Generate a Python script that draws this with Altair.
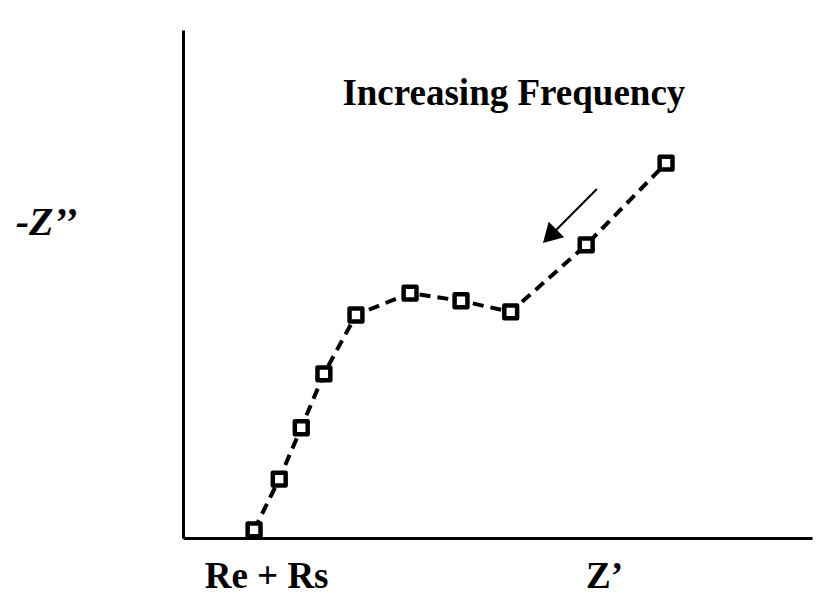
import altair as alt
import pandas as pd

# Nyquist-type impedance sketch (arbitrary units, 0-100 on both axes)
z_real = [11.3, 15.3, 18.8, 22.4, 27.5, 36.1, 44.2, 52.1, 64.1, 76.8]
z_imag = [1.6, 11.6, 21.7, 32.3, 43.9, 48.2, 46.7, 44.5, 57.7, 73.8]
point_order = list(range(len(z_real)))

rers_tick = [11.3]
note_text = ["Increasing Frequency"]
note_x = [52.6]
note_y = [85.2]
arrow_x = [65.8]
arrow_y = [68.7]
arrow_x2 = [58.8]
arrow_y2 = [60.0]
head_x = [58.3]
head_y = [59.4]

FONT = "Liberation Serif"

df = pd.DataFrame({"zr": z_real, "zi": z_imag, "i": point_order})
note_df = pd.DataFrame({"t": note_text, "x": note_x, "y": note_y})
arrow_df = pd.DataFrame({"x": arrow_x, "y": arrow_y, "x2": arrow_x2, "y2": arrow_y2})
head_df = pd.DataFrame({"x": head_x, "y": head_y})

xs = alt.Scale(domain=[0, 100], nice=False, zero=False)
ys = alt.Scale(domain=[0, 100], nice=False, zero=False)

x_axis = alt.Axis(
    values=rers_tick, labelExpr="'Re + Rs'", ticks=False, tickSize=0, grid=False,
    domainWidth=3, domainColor="black",
    labelFont=FONT, labelFontSize=37, labelFontWeight="bold", labelColor="black",
    labelBaseline="alphabetic", labelPadding=49, labelOffset=12, labelAlign="center",
    labelFlush=False,
    title="Z\u2019", titleFont=FONT, titleFontSize=37, titleFontWeight="bold",
    titleColor="black", titleX=421, titleY=49, titleBaseline="alphabetic",
    titleAlign="center",
)
y_axis = alt.Axis(
    values=[0], labels=False, ticks=False, tickSize=0, grid=False,
    domainWidth=3, domainColor="black",
    title="-Z\u2019\u2019", titleFont=FONT, titleFontSize=40, titleFontWeight="bold",
    titleFontStyle="italic", titleColor="black", titleAngle=0,
    titleX=-137, titleY=204, titleBaseline="alphabetic", titleAlign="center",
)


def X(field):
    return alt.X(field, type="quantitative", scale=xs, axis=x_axis, title="Z\u2019")


def Y(field):
    return alt.Y(field, type="quantitative", scale=ys, axis=y_axis, title="-Z\u2019\u2019")


line = alt.Chart(df).mark_line(
    color="black", strokeWidth=4, strokeDash=[11, 7]
).encode(x=X("zr"), y=Y("zi"), order="i:Q")

pts = alt.Chart(df).mark_point(
    shape="square", size=165, filled=True, fill="white", stroke="black",
    strokeWidth=4.5, opacity=1, strokeJoin="round"
).encode(x=X("zr"), y=Y("zi"))

note = alt.Chart(note_df).mark_text(
    font=FONT, fontSize=37, fontWeight="bold", color="black",
    align="center", baseline="alphabetic"
).encode(x=X("x"), y=Y("y"), text="t:N")

arrow = alt.Chart(arrow_df).mark_rule(color="black", strokeWidth=2).encode(
    x=X("x"), y=Y("y"), x2="x2:Q", y2="y2:Q"
)

head = alt.Chart(head_df).mark_point(
    shape="triangle-up", size=480, filled=True, color="black", opacity=1, angle=225
).encode(x=X("x"), y=Y("y"))

chart = alt.layer(line, pts, note, arrow, head).properties(
    width=629, height=508,
    autosize=alt.AutoSizeParams(type="none"),
    padding={"left": 175, "top": 22, "right": 2, "bottom": 59},
    background="white",
).configure_view(stroke=None)

chart.save("out.html", embed_options={"renderer": "svg", "actions": False})
